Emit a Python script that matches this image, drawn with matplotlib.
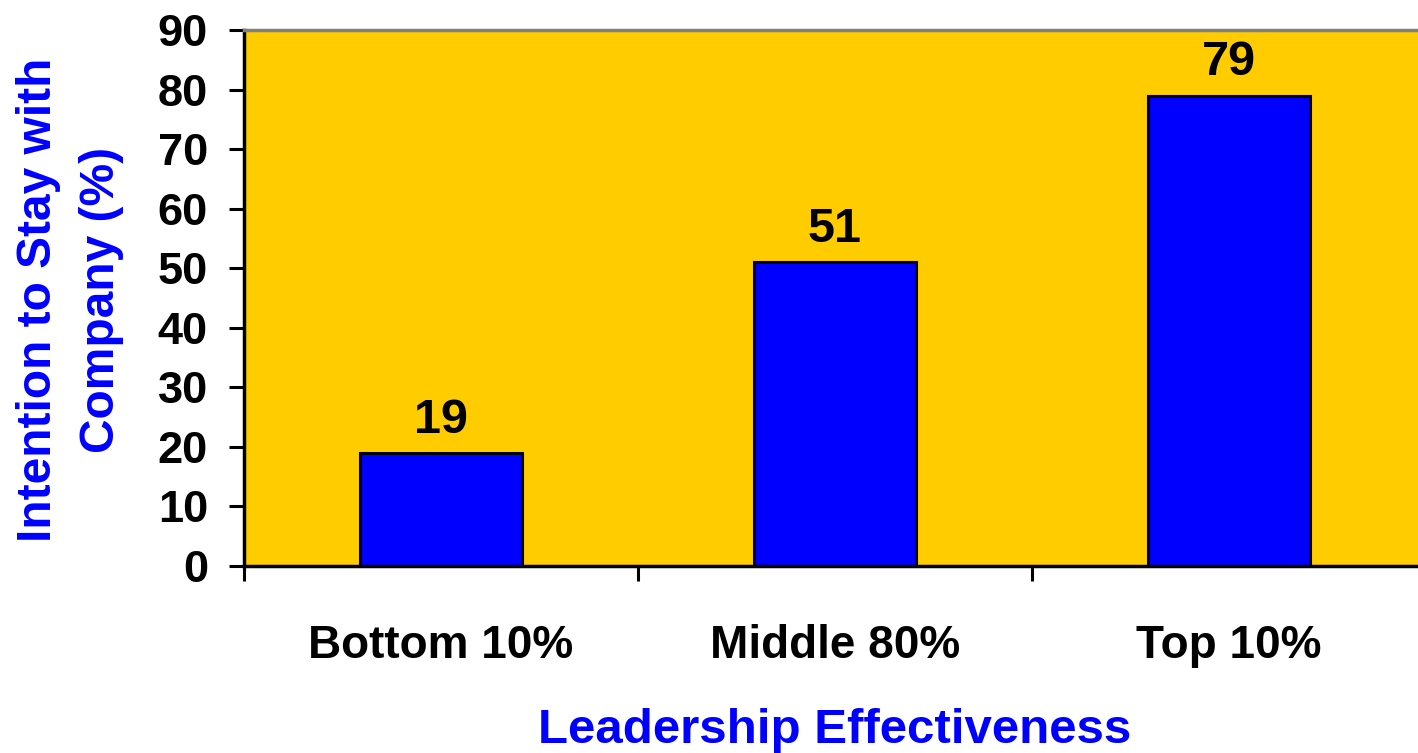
import matplotlib.pyplot as plt

categories = ["Bottom 10%", "Middle 80%", "Top 10%"]
values = [19, 51, 79]
yticks = [0, 10, 20, 30, 40, 50, 60, 70, 80, 90]

plt.rcParams['font.family'] = ['Liberation Sans', 'DejaVu Sans']
plt.rcParams['font.weight'] = 'bold'

W, H = 1418, 753
fig = plt.figure(figsize=(W / 100, H / 100), dpi=100)
# plot area: x 244..1426 px, y 30..566 px
ax = fig.add_axes([244 / W, (H - 566) / H, (1426 - 244) / W, (566 - 30) / H])
ax.set_facecolor('#FFCC00')

x = range(len(categories))
bars = ax.bar(x, values, width=0.41, color='#0000FF', edgecolor='black', linewidth=2.2)
for xi, v in zip(x, values):
    ax.text(xi, v + 3.4, str(v), ha='center', va='baseline', fontsize=35, fontweight='bold')

ax.set_xlim(-0.5, len(categories) - 0.5)
ax.set_ylim(0, 90)
ax.set_yticks(yticks)
ax.set_yticklabels([str(t) for t in yticks], fontsize=32.5, fontweight='bold')
ax.set_xticks([i - 0.5 for i in range(len(categories) + 1)])
ax.set_xticklabels([])
ax.set_xticks(list(x), minor=True)
ax.set_xticklabels(categories, minor=True, fontsize=33, fontweight='bold')
ax.tick_params(axis='x', which='minor', length=0, pad=42)
ax.tick_params(axis='x', which='major', length=11, width=2.2, direction='out')
ax.tick_params(axis='y', length=11, width=2.2, direction='out', pad=15)

for side in ['left', 'bottom']:
    ax.spines[side].set_linewidth(2.5)
    ax.spines[side].set_color('black')
ax.spines['top'].set_color('#808080')
ax.spines['top'].set_linewidth(2.5)
ax.spines['right'].set_visible(False)

# axis titles placed in figure pixels
fig.text(835 / W, (H - 743) / H, "Leadership Effectiveness", ha='center', va='baseline',
         fontsize=35.5, fontweight='bold', color='#0000FF')
fig.text(70 / W, (H - 300) / H, "Intention to Stay with\nCompany (%)", rotation=90,
         ha='center', va='center', multialignment='center', fontsize=34.5,
         fontweight='bold', color='#0000FF', linespacing=1.5)

fig.savefig('out.png', dpi=100)
